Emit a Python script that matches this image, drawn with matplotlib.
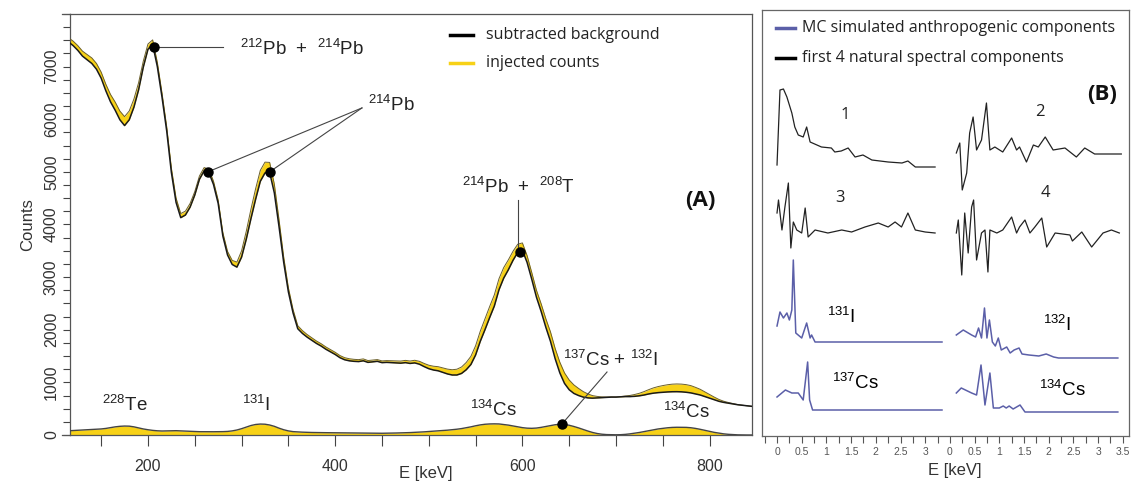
import numpy as np
import matplotlib
matplotlib.use("Agg")
import matplotlib.pyplot as plt
from matplotlib.lines import Line2D
from matplotlib.ticker import FixedLocator, MultipleLocator, NullFormatter

plt.rcParams['font.family'] = ['Liberation Sans', 'DejaVu Sans']
plt.rcParams['mathtext.fontset'] = 'custom'
plt.rcParams['mathtext.rm'] = 'Liberation Sans'
plt.rcParams['mathtext.it'] = 'Liberation Sans:italic'
plt.rcParams['mathtext.bf'] = 'Liberation Sans:bold'

# ---------------- (A) gamma spectrum, 5 keV bins ----------------
energy = np.arange(115, 850, 5)

background = [
    7470, 7400, 7310, 7200, 7130, 7060, 6950, 6780, 6540, 6330,
    6170, 5990, 5880, 5990, 6230, 6560, 6990, 7330, 7420, 7000,
    6420, 5780, 4990, 4420, 4130, 4180, 4330, 4560, 4860, 5020,
    4990, 4760, 4400, 3780, 3420, 3240, 3190, 3380, 3720, 4110,
    4480, 4820, 4980, 4990, 4600, 3960, 3280, 2720, 2320, 2020,
    1930, 1860, 1800, 1740, 1690, 1630, 1580, 1530, 1470, 1430,
    1410, 1400, 1395, 1410, 1380, 1390, 1400, 1375, 1380, 1375,
    1370, 1365, 1375, 1360, 1370, 1345, 1300, 1260, 1235, 1220,
    1190, 1160, 1140, 1140, 1170, 1240, 1340, 1520, 1780, 2000,
    2230, 2450, 2760, 2980, 3140, 3320, 3470, 3510, 3280, 2960,
    2620, 2350, 2050, 1780, 1450, 1180, 980, 860, 790, 750,
    720, 705, 700, 705, 710, 715, 720, 720, 725, 730,
    730, 735, 745, 760, 780, 795, 805, 812, 818, 822,
    823, 820, 812, 800, 780, 760, 730, 700, 670, 640,
    620, 605, 590, 575, 565, 555, 545,
]

injected = [
    80, 85, 90, 95, 100, 105, 110, 115, 125, 140,
    155, 165, 170, 168, 155, 135, 115, 100, 88, 80,
    76, 78, 82, 82, 78, 74, 70, 66, 63, 62,
    62, 62, 63, 64, 68, 78, 95, 120, 150, 180,
    200, 208, 205, 190, 165, 130, 100, 78, 64, 58,
    54, 50, 48, 46, 45, 44, 43, 42, 41, 40,
    39, 38, 37, 36, 35, 34, 33, 33, 34, 36,
    38, 40, 43, 46, 50, 55, 60, 66, 72, 78,
    85, 92, 100, 110, 122, 138, 155, 175, 192, 204,
    210, 212, 210, 200, 188, 172, 155, 140, 130, 127,
    132, 145, 162, 180, 195, 203, 200, 185, 162, 135,
    105, 75, 48, 28, 15, 8, 5, 4, 6, 12,
    22, 35, 48, 65, 82, 100, 115, 127, 137, 144,
    147, 147, 145, 138, 125, 108, 88, 68, 50, 35,
    22, 13, 7, 3, 1, 0, 0,
]

# marked peaks (keV, counts)
peak_E = [206, 264, 330, 597, 642]
peak_C = [7370, 5000, 5000, 3480, 203]

# ---------------- (B) spectral components ----------------
comp1_E = [0.00, 0.06, 0.13, 0.20, 0.30, 0.36, 0.43, 0.53, 0.60, 0.67, 0.90, 1.10, 1.17, 1.30, 1.44, 1.58, 1.74, 1.92, 2.25, 2.53, 2.65, 2.80, 3.20]
comp1_v = [2, 77, 78, 70, 54, 40, 32, 30, 40, 25, 20, 19, 15, 16, 19, 10, 12, 7, 5, 4, 6, 0, 0]

comp2_E = [0.13, 0.20, 0.25, 0.34, 0.40, 0.47, 0.54, 0.64, 0.74, 0.81, 0.91, 1.07, 1.25, 1.35, 1.41, 1.55, 1.69, 1.79, 1.93, 2.09, 2.33, 2.56, 2.73, 2.93, 3.47]
comp2_v = [1, 11, -36, -19, 21, 37, 4, 14, 51, 4, 7, 2, 16, 4, 7, -8, 9, 7, 17, 4, 6, -3, 6, 0, 0]

comp3_E = [0.00, 0.03, 0.10, 0.16, 0.23, 0.28, 0.33, 0.40, 0.50, 0.57, 0.63, 0.77, 1.03, 1.31, 1.51, 1.78, 2.05, 2.25, 2.39, 2.52, 2.65, 2.80, 3.00, 3.20]
comp3_v = [19, 32, 2, 25, 49, -16, 10, 2, -1, 24, -5, 2, -1, 2, 0, 5, 9, 5, 10, 5, 19, 2, 0, -1]

comp4_E = [0.13, 0.17, 0.24, 0.30, 0.37, 0.44, 0.48, 0.54, 0.64, 0.71, 0.77, 0.81, 0.95, 1.07, 1.25, 1.35, 1.41, 1.52, 1.62, 1.72, 1.86, 1.96, 2.13, 2.43, 2.48, 2.67, 2.87, 3.10, 3.27, 3.43]
comp4_v = [0, 13, -42, 20, -20, 26, 33, -27, 0, 3, -39, 3, 0, 3, 16, 0, 6, 13, 0, 6, 15, -14, 0, -2, -8, 1, -14, 0, 3, 0]

i131_E = [0.00, 0.06, 0.13, 0.20, 0.25, 0.30, 0.33, 0.38, 0.50, 0.60, 0.67, 0.70, 0.77, 3.34]
i131_v = [16, 30, 24, 29, 22, 32, 82, 9, 4, 19, 4, 7, 0, 0]

cs137_E = [0.00, 0.17, 0.30, 0.43, 0.53, 0.62, 0.66, 0.72, 3.34]
cs137_v = [13, 20, 17, 17, 10, 48, 10, 0, 0]

i132_E = [0.13, 0.27, 0.44, 0.52, 0.58, 0.64, 0.70, 0.75, 0.80, 0.86, 0.92, 0.98, 1.04, 1.15, 1.22, 1.30, 1.40, 1.46, 1.60, 1.80, 1.95, 2.10, 2.20, 3.40]
i132_v = [23, 28, 23, 21, 30, 20, 50, 20, 38, 16, 12, 20, 8, 11, 5, 8, 10, 4, 3, 2, 4, 1, 0, 0]

cs134_E = [0.13, 0.23, 0.44, 0.54, 0.63, 0.71, 0.81, 0.88, 1.00, 1.08, 1.14, 1.20, 1.28, 1.42, 1.52, 3.40]
cs134_v = [19, 24, 19, 17, 47, 7, 39, 4, 4, 6, 4, 6, 3, 7, 0, 0]

W, H = 1131, 490
YELLOW = '#f7d117'
BLUE = '#5b5fa8'


def fx(x):
    return x / W


def fy(y):
    return 1 - y / H


fig = plt.figure(figsize=(W / 100, H / 100), dpi=100)
fig.patch.set_facecolor('white')

# ======================= panel (A) =======================
ax = fig.add_axes([fx(70), fy(435), fx(752) - fx(70), fy(14) - fy(435)])
bg = np.array(background, dtype=float)
inj = np.array(injected, dtype=float)
total = bg + inj

ax.fill_between(energy, bg, total, color=YELLOW, lw=0, zorder=2)
ax.plot(energy, total, color='#6b5f2a', lw=0.7, zorder=3)
ax.plot(energy, bg, color='#1a1a1a', lw=1.1, zorder=4)

ax.fill_between(energy, 0, inj, color=YELLOW, lw=0, zorder=2)
ax.plot(energy, inj, color='#444444', lw=1.0, zorder=3)

ax.plot(peak_E, peak_C, 'o', color='black', ms=6.5, zorder=6)

ax.set_xlim(116.7, 845.3)
ax.set_ylim(0, 8000)

ax.set_yticks(range(0, 8000, 1000))
ax.yaxis.set_minor_locator(MultipleLocator(250))
ax.xaxis.set_major_locator(FixedLocator([200, 400, 600, 800]))
ax.xaxis.set_minor_locator(FixedLocator(list(range(150, 850, 50))))
ax.xaxis.set_minor_formatter(NullFormatter())
ax.tick_params(axis='y', which='both', direction='out', length=5, width=0.8,
               colors='#444444', labelsize=11.5, pad=3)
ax.tick_params(axis='x', which='both', direction='out', length=8, width=0.8,
               colors='#444444', labelsize=11.5, pad=9)
for lab in ax.get_yticklabels():
    lab.set_rotation(90)
    lab.set_va('center')
for lab in ax.get_xticklabels() + ax.get_yticklabels():
    lab.set_color('#333333')
for s in ax.spines.values():
    s.set_color('#555555')
    s.set_linewidth(0.9)
ax.set_ylabel('Counts', fontsize=12, color='#333333', labelpad=6)
fig.text(fx(426), fy(473), 'E [keV]', fontsize=12, color='#333333',
         ha='center', va='center')

# frame stubs left of the y axis
for yy in (14, 435):
    fig.add_artist(Line2D([fx(62), fx(70)], [fy(yy), fy(yy)],
                          color='#555555', lw=0.9))

# annotations
lc = '#444444'
ax.plot([206, 280], [7370, 7370], color=lc, lw=0.8, zorder=5)
ax.text(298, 7330, r'$\mathregular{^{212}Pb}$  +  $\mathregular{^{214}Pb}$',
        fontsize=13.5, va='center', ha='left', color='#222222')
ax.plot([428.6, 264], [6215, 5000], color=lc, lw=0.8, zorder=5)
ax.plot([428.6, 330], [6215, 5000], color=lc, lw=0.8, zorder=5)
ax.text(435, 6270, r'$\mathregular{^{214}Pb}$', fontsize=13.5,
        va='center', ha='left', color='#222222')
ax.plot([595.5, 595.5], [4465, 3480], color=lc, lw=0.8, zorder=5)
ax.text(535.5, 4710, r'$\mathregular{^{214}Pb}$  +  $\mathregular{^{208}T}$',
        fontsize=13.5, va='center', ha='left', color='#222222')
ax.plot([642, 690.4], [203, 1197], color=lc, lw=0.8, zorder=5)
ax.text(643.4, 1425, r'$\mathregular{^{137}Cs}$ + $\mathregular{^{132}I}$',
        fontsize=13.5, va='center', ha='left', color='#222222')
ax.text(150.9, 570, r'$\mathregular{^{228}Te}$', fontsize=13.5,
        va='center', ha='left', color='#222222')
ax.text(300.4, 570, r'$\mathregular{^{131}I}$', fontsize=13.5,
        va='center', ha='left', color='#222222')
ax.text(544, 475, r'$\mathregular{^{134}Cs}$', fontsize=13.5,
        va='center', ha='left', color='#222222')
ax.text(750.2, 437, r'$\mathregular{^{134}Cs}$', fontsize=13.5,
        va='center', ha='left', color='#222222')
ax.text(789.7, 4465, '(A)', fontsize=16, fontweight='bold', family='Open Sans',
        va='center', ha='center', color='#111111')

# legend of panel (A)
fig.add_artist(Line2D([fx(450), fx(473)], [fy(35), fy(35)], color='black', lw=2.5))
fig.text(fx(486), fy(35), 'subtracted background', family='Open Sans',
         fontsize=11.5, va='center', color='#222222')
fig.add_artist(Line2D([fx(450), fx(473)], [fy(63), fy(63)], color=YELLOW, lw=2.5))
fig.text(fx(486), fy(63), 'injected counts', family='Open Sans',
         fontsize=11.5, va='center', color='#222222')

# ======================= panel (B) =======================
axb = fig.add_axes([fx(762), fy(436), fx(1129) - fx(762), fy(10) - fy(436)])
axb.set_xlim(-0.304, 7.126)
axb.set_ylim(0, 426)
right_shift = 3.5

natural = [
    (comp1_E, comp1_v, 0.0, 269),
    (comp2_E, comp2_v, right_shift, 282),
    (comp3_E, comp3_v, 0.0, 204),
    (comp4_E, comp4_v, right_shift, 203),
]
anthropogenic = [
    (i131_E, i131_v, 0.0, 94),
    (cs137_E, cs137_v, 0.0, 26),
    (i132_E, i132_v, right_shift, 78),
    (cs134_E, cs134_v, right_shift, 24),
]
for e, v, sh, base in natural:
    axb.plot(np.array(e) + sh, np.array(v) + base, color='#222222', lw=0.9)
for e, v, sh, base in anthropogenic:
    axb.plot(np.array(e) + sh, np.array(v) + base, color=BLUE, lw=1.1)

tick_pos = [0, 0.5, 1, 1.5, 2, 2.5, 3, 3.5, 4, 4.5, 5, 5.5, 6, 6.5, 7]
tick_lab = ['0', '0.5', '1', '1.5', '2', '2.5', '3',
            '0', '0.5', '1', '1.5', '2', '2.5', '3', '3.5']
axb.set_xticks(tick_pos)
axb.set_xticklabels(tick_lab)
axb.xaxis.set_minor_locator(MultipleLocator(0.25))
axb.set_yticks([])
axb.tick_params(axis='x', which='both', direction='out', length=5, width=0.8,
                colors='#555555', labelsize=7.5, pad=3)
for s in axb.spines.values():
    s.set_color('#666666')
    s.set_linewidth(0.9)

for txt, x, y in [('1', 1.38, 321), ('2', 5.32, 324), ('3', 1.28, 238), ('4', 5.43, 243)]:
    axb.text(x, y, txt, family='Open Sans', fontsize=12, ha='center', va='center',
             color='#222222')
axb.text(6.58, 341, '(B)', family='Open Sans', fontsize=16, fontweight='bold',
         ha='center', va='center', color='#111111')
axb.text(1.30, 119, r'$\mathregular{^{131}I}$', fontsize=13.5, ha='center', va='center')
axb.text(5.67, 111, r'$\mathregular{^{132}I}$', fontsize=13.5, ha='center', va='center')
axb.text(1.58, 53, r'$\mathregular{^{137}Cs}$', fontsize=13.5, ha='center', va='center')
axb.text(5.77, 46, r'$\mathregular{^{134}Cs}$', fontsize=13.5, ha='center', va='center')

fig.text(fx(955), fy(470), 'E [keV]', fontsize=12, color='#333333',
         ha='center', va='center')

# legend of panel (B)
fig.add_artist(Line2D([fx(776), fx(795)], [fy(28), fy(28)], color=BLUE, lw=2.5))
fig.text(fx(802), fy(28), 'MC simulated anthropogenic components', family='Open Sans',
         fontsize=11.5, va='center', color='#222222')
fig.add_artist(Line2D([fx(776), fx(795)], [fy(58), fy(58)], color='black', lw=2.5))
fig.text(fx(802), fy(58), 'first 4 natural spectral components', family='Open Sans',
         fontsize=11.5, va='center', color='#222222')

fig.savefig('out.png', dpi=100, facecolor='white')
